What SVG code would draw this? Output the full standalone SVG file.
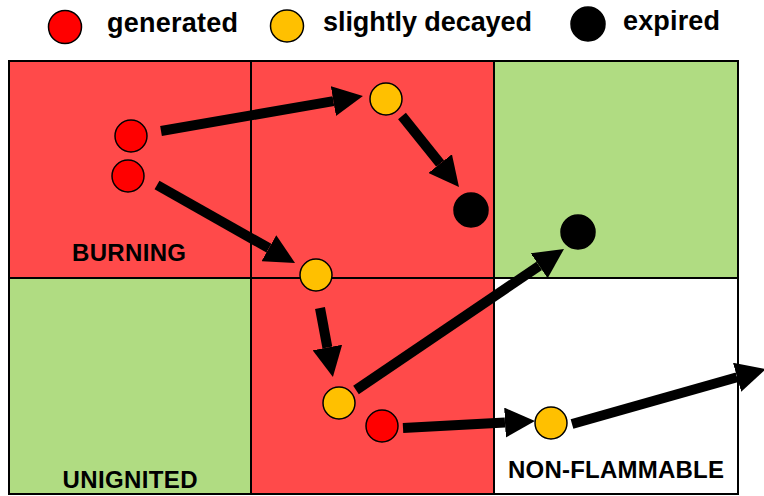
<svg xmlns="http://www.w3.org/2000/svg" width="764" height="496" viewBox="0 0 764 496">
<style>
.cell{stroke:#000;stroke-width:2}
.burn{fill:#FF4A4A}
.ung{fill:#B0DC82}
.nf{fill:#FFFFFF}
.lbl{font-family:"Liberation Sans",Arial,sans-serif;font-weight:bold;font-size:24px;fill:#000;text-anchor:middle}
.leg{font-family:"Liberation Sans",Arial,sans-serif;font-weight:bold;font-size:27px;fill:#000}
.gen{fill:#FF0000;stroke:#000;stroke-width:1.5}
.dec{fill:#FFC000;stroke:#000;stroke-width:1.5}
.exp{fill:#000;stroke:#000;stroke-width:1.5}
.arr{stroke:#000;stroke-width:10;fill:none;marker-end:url(#head)}
</style>
<defs>
<marker id="head" viewBox="0 0 10 10" refX="0" refY="5" markerWidth="3" markerHeight="3" orient="auto" markerUnits="strokeWidth">
<path d="M0,0 L10,5 L0,10 z" fill="#000"/>
</marker>
</defs>
<rect width="764" height="496" fill="#FFFFFF"/>
<g id="legend">
<ellipse class="gen" cx="65" cy="27" rx="16.5" ry="16.5"/>
<text class="leg" x="107" y="32" textLength="131">generated</text>
<ellipse class="dec" cx="287" cy="26" rx="16.5" ry="16"/>
<text class="leg" x="323" y="31" textLength="209">slightly decayed</text>
<ellipse class="exp" cx="588" cy="24" rx="17" ry="17"/>
<text class="leg" x="623" y="30" textLength="97">expired</text>
</g>
<g id="grid">
<g id="cell-burning"><rect class="cell burn" x="9" y="61" width="242" height="217"/><text class="lbl" x="129" y="261" textLength="114">BURNING</text></g>
<g id="cell-burning-2"><rect class="cell burn" x="251" y="61" width="243" height="217"/></g>
<g id="cell-green-1"><rect class="cell ung" x="494" y="61" width="244" height="217"/></g>
<g id="cell-unignited"><rect class="cell ung" x="9" y="278" width="242" height="216"/><text class="lbl" x="130" y="488" textLength="135">UNIGNITED</text></g>
<g id="cell-burning-3"><rect class="cell burn" x="251" y="278" width="243" height="216"/></g>
<g id="cell-nonflammable"><rect class="cell nf" x="494" y="278" width="244" height="216"/><text class="lbl" x="616" y="478" textLength="216">NON-FLAMMABLE</text></g>
</g>
<g id="connectors">
<line class="arr" x1="161" y1="131" x2="333.4" y2="101.1"/>
<line class="arr" x1="157" y1="185" x2="268.9" y2="248.2"/>
<line class="arr" x1="402" y1="116" x2="440.2" y2="163.6"/>
<line class="arr" x1="320" y1="308" x2="327.4" y2="347.5"/>
<line class="arr" x1="356" y1="390" x2="539.2" y2="265.8"/>
<line class="arr" x1="403" y1="428" x2="505" y2="422.6"/>
<line class="arr" x1="572" y1="424" x2="737.1" y2="377.2"/>
</g>
<g id="particles">
<g id="p-red-1"><circle class="gen" cx="131" cy="136" r="16"/></g>
<g id="p-red-2"><circle class="gen" cx="128" cy="176" r="16"/></g>
<g id="p-yellow-1"><circle class="dec" cx="386" cy="99" r="16"/></g>
<g id="p-black-1"><circle class="exp" cx="471" cy="210" r="17"/></g>
<g id="p-yellow-2"><circle class="dec" cx="316" cy="275" r="16"/></g>
<g id="p-black-2"><circle class="exp" cx="578" cy="232" r="17"/></g>
<g id="p-yellow-3"><circle class="dec" cx="339" cy="403" r="16"/></g>
<g id="p-red-3"><circle class="gen" cx="382" cy="426" r="16"/></g>
<g id="p-yellow-4"><circle class="dec" cx="551" cy="423" r="16"/></g>
</g>
</svg>
